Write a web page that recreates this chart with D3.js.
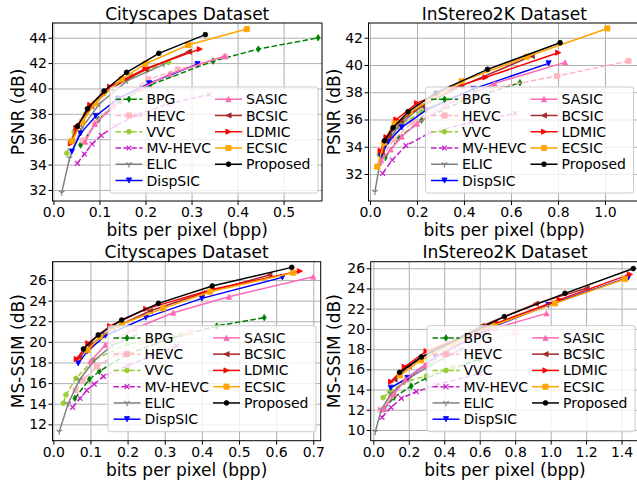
<!DOCTYPE html>
<html>
<head>
<meta charset="utf-8">
<script src="https://cdn.jsdelivr.net/npm/d3@7"></script>
<style>
  body { margin: 0; background: #fff; }
  svg { font-family: "DejaVu Sans", sans-serif; }
  .axis path, .axis line { stroke: #000; }
  .grid line { stroke: #b0b0b0; stroke-width: 1; }
  .grid path { display: none; }
</style>
</head>
<body>
<svg id="chart" width="637" height="483"></svg>
<script>
// Names, in legend order
var methods = ['BPG', 'HEVC', 'VVC', 'MV-HEVC', 'ELIC', 'DispSIC', 'SASIC', 'BCSIC', 'LDMIC', 'ECSIC', 'Proposed'];
var titles = ['Cityscapes Dataset', 'InStereo2K Dataset', 'Cityscapes Dataset', 'InStereo2K Dataset'];
var ylabels = ['PSNR (dB)', 'PSNR (dB)', 'MS-SSIM (dB)', 'MS-SSIM (dB)'];
var xlabel = 'bits per pixel (bpp)';

// Tick values
var cityPsnrXTicks = [0, 0.1, 0.2, 0.3, 0.4, 0.5];
var cityPsnrYTicks = [32, 34, 36, 38, 40, 42, 44];
var instPsnrXTicks = [0, 0.2, 0.4, 0.6, 0.8, 1.0];
var instPsnrYTicks = [32, 34, 36, 38, 40, 42];
var cityMsXTicks = [0, 0.1, 0.2, 0.3, 0.4, 0.5, 0.6, 0.7];
var cityMsYTicks = [12, 14, 16, 18, 20, 22, 24, 26];
var instMsXTicks = [0, 0.2, 0.4, 0.6, 0.8, 1.0, 1.2, 1.4];
var instMsYTicks = [10, 12, 14, 16, 18, 20, 22, 24, 26];

// [bpp, value] per method (same order as methods)
var cityPsnr = [
  [[0.059,35.54],[0.098,37.56],[0.145,39.0],[0.21,40.27],[0.347,42.16],[0.445,43.1],[0.575,44.0]],
  [[0.065,35.9],[0.09,37.3],[0.13,38.75],[0.206,40.72],[0.27,41.5],[0.373,42.5]],
  [[0.029,34.89],[0.045,36.6],[0.07,38.0],[0.11,39.6],[0.17,41.0],[0.25,42.06]],
  [[0.052,34.1],[0.067,34.83],[0.084,35.62],[0.104,36.3],[0.134,37.04],[0.18,37.9],[0.25,38.8],[0.339,39.53]],
  [[0.018,31.79],[0.035,34.5],[0.06,36.8],[0.1,38.8],[0.16,40.6],[0.24,41.9]],
  [[0.04,35.02],[0.059,36.46],[0.092,37.83],[0.14,39.2],[0.208,40.4],[0.313,41.92]],
  [[0.069,35.8],[0.09,37.2],[0.13,38.6],[0.19,40.0],[0.253,41.14],[0.373,42.56]],
  [[0.04,35.9],[0.055,37.2],[0.082,38.6],[0.125,40.0],[0.2,41.5],[0.294,42.9]],
  [[0.038,35.67],[0.05,36.9],[0.08,38.7],[0.123,40.14],[0.2,41.55],[0.318,43.1]],
  [[0.04,35.85],[0.063,37.38],[0.09,38.83],[0.148,40.72],[0.2,41.95],[0.293,43.42],[0.42,44.68]],
  [[0.052,37.0],[0.074,38.4],[0.11,39.8],[0.159,41.27],[0.229,42.77],[0.33,44.24]]
];
var instPsnr = [
  [[0.065,33.2],[0.123,34.67],[0.22,35.96],[0.4,37.4],[0.638,38.7]],
  [[0.05,33.2],[0.1,34.5],[0.18,35.8],[0.32,37.2],[0.52,38.3],[0.797,39.19],[1.1,40.29]],
  [[0.04,33.4],[0.075,34.5],[0.133,35.6],[0.22,36.6],[0.32,37.5],[0.45,38.2]],
  [[0.054,32.05],[0.095,33.03],[0.153,34.08],[0.255,35.03],[0.43,35.8],[0.617,36.45]],
  [[0.021,30.7],[0.04,32.6],[0.07,34.2],[0.12,35.5],[0.2,36.7],[0.284,37.6]],
  [[0.045,33.3],[0.078,34.37],[0.135,35.42],[0.24,36.7],[0.44,38.25],[0.76,40.12]],
  [[0.047,33.0],[0.088,33.8],[0.135,34.75],[0.2,35.7],[0.32,37.0],[0.53,38.65],[0.83,40.19]],
  [[0.05,33.6],[0.08,34.8],[0.13,35.9],[0.22,37.0],[0.386,38.45],[0.689,40.65]],
  [[0.045,33.7],[0.07,34.7],[0.112,36.0],[0.2,37.2],[0.35,38.3],[0.492,39.09],[0.801,40.9]],
  [[0.031,32.54],[0.06,34.3],[0.105,35.7],[0.17,36.55],[0.39,38.8],[0.667,40.6],[1.01,42.68]],
  [[0.062,34.44],[0.098,35.4],[0.162,36.57],[0.28,37.95],[0.5,39.68],[0.809,41.63]]
];
var cityMs = [
  [[0.058,14.52],[0.097,16.37],[0.124,17.15],[0.2,18.8],[0.32,20.4],[0.44,21.54],[0.568,22.35]],
  [[0.06,15.3],[0.08,16.3],[0.117,17.6],[0.17,18.8],[0.25,20.0],[0.37,20.9]],
  [[0.027,14.04],[0.034,14.85],[0.061,16.46],[0.108,18.24],[0.2,19.8],[0.344,20.67]],
  [[0.052,13.65],[0.072,14.52],[0.09,15.3],[0.11,15.9],[0.135,16.65],[0.2,17.7],[0.332,19.6]],
  [[0.016,11.29],[0.04,14.0],[0.07,16.3],[0.11,18.2],[0.16,19.7],[0.22,20.6]],
  [[0.067,17.92],[0.092,19.1],[0.14,20.6],[0.249,22.35],[0.4,24.22],[0.617,26.26]],
  [[0.1,18.1],[0.14,19.7],[0.22,21.3],[0.323,22.83],[0.473,24.38],[0.7,26.32]],
  [[0.07,18.5],[0.1,19.7],[0.16,21.3],[0.26,23.0],[0.4,24.7],[0.582,26.48]],
  [[0.063,18.34],[0.094,19.86],[0.153,21.54],[0.25,23.2],[0.43,25.1],[0.664,26.87]],
  [[0.092,19.2],[0.126,20.5],[0.184,21.73],[0.296,23.25],[0.422,24.87],[0.646,26.71]],
  [[0.081,19.31],[0.121,20.67],[0.184,22.12],[0.283,23.74],[0.428,25.42],[0.642,27.23]]
];
var instMs = [
  [[0.06,12.07],[0.117,13.23],[0.214,14.35],[0.3,15.15],[0.45,16.1],[0.6,17.0]],
  [[0.04,12.0],[0.1,13.4],[0.2,15.2],[0.403,17.52],[0.8,19.6]],
  [[0.055,13.2],[0.092,13.8],[0.17,14.7],[0.3,15.35],[0.45,16.2]],
  [[0.049,11.25],[0.1,12.24],[0.158,13.13],[0.242,13.8],[0.355,14.45],[0.6,15.6]],
  [[0.011,9.83],[0.045,12.0],[0.1,13.6],[0.2,15.1],[0.33,16.5],[0.5,18.0]],
  [[0.098,14.18],[0.192,15.14],[0.35,17.2],[0.66,20.1],[0.987,22.37],[1.438,25.08]],
  [[0.06,12.1],[0.12,13.6],[0.18,15.0],[0.29,16.4],[0.45,18.3],[0.686,20.06],[0.977,21.54]],
  [[0.12,15.0],[0.2,16.3],[0.33,17.8],[0.611,20.3],[0.917,22.5],[1.203,24.02]],
  [[0.1,14.78],[0.177,16.26],[0.3,17.8],[0.7,20.6],[1.05,22.9],[1.447,25.4]],
  [[0.15,15.4],[0.27,16.9],[0.45,18.6],[0.673,20.29],[1.024,22.53],[1.419,24.94]],
  [[0.148,15.7],[0.271,17.22],[0.739,21.21],[1.081,23.52],[1.466,25.97]]
];

// Styles per method
var styles = {
  'BPG':      {color: '#008000', dash: true,  marker: 'd'},
  'HEVC':     {color: '#ffb6c1', dash: true,  marker: 's'},
  'VVC':      {color: '#9acd32', dash: true,  marker: 'o'},
  'MV-HEVC':  {color: '#c71fc7', dash: true,  marker: 'x'},
  'ELIC':     {color: '#808080', dash: false, marker: '1'},
  'DispSIC':  {color: '#0000ff', dash: false, marker: 'v'},
  'SASIC':    {color: '#ff69b4', dash: false, marker: '^'},
  'BCSIC':    {color: '#a52a2a', dash: false, marker: '<'},
  'LDMIC':    {color: '#ff0000', dash: false, marker: '>'},
  'ECSIC':    {color: '#ffa500', dash: false, marker: 's'},
  'Proposed': {color: '#000000', dash: false, marker: 'o'}
};

// Panel layout (pixel boxes and axis limits)
var panels = [
  {data: cityPsnr, xt: cityPsnrXTicks, yt: cityPsnrYTicks, box: {l: 52.5, r: 322, t: 23, b: 201},
   xd: [-0.002, 0.5834], yd: [31.13, 45.16], legL: 110, ylabX: 24},
  {data: instPsnr, xt: instPsnrXTicks, yt: instPsnrYTicks, box: {l: 368.5, r: 640, t: 23, b: 201},
   xd: [-0.0064, 1.149], yd: [30.02, 43.08], legL: 425.5, ylabX: 340},
  {data: cityMs, xt: cityMsXTicks, yt: cityMsYTicks, box: {l: 52.5, r: 320.7, t: 261.7, b: 440.7},
   xd: [-0.0022, 0.72], yd: [10.41, 27.78], legL: 108, ylabX: 24},
  {data: instMs, xt: instMsXTicks, yt: instMsYTicks, box: {l: 370.7, r: 639.3, t: 261.7, b: 440.7},
   xd: [-0.0147, 1.5], yd: [8.94, 26.65], legL: 427, ylabX: 340}
];

var svg = d3.select('#chart');

// Marker shapes, roughly like matplotlib's
function markerPath(type) {
  var s = 2.6;
  switch (type) {
    case 'o': return d3.symbol(d3.symbolCircle, Math.PI * 2.4 * 2.4)();
    case 's': return 'M' + (-s) + ',' + (-s) + 'h' + (2 * s) + 'v' + (2 * s) + 'h' + (-2 * s) + 'Z';
    case 'd': return 'M0,' + (-3.2) + 'L2,0L0,3.2L-2,0Z';
    case 'x': return 'M-2.4,-2.4L2.4,2.4M-2.4,2.4L2.4,-2.4';
    case '1': return 'M0,0L0,3.2M0,0L-2.8,-1.6M0,0L2.8,-1.6';
    case 'v': return 'M0,' + s + 'L' + (-s) + ',' + (-s) + 'L' + s + ',' + (-s) + 'Z';
    case '^': return 'M0,' + (-s) + 'L' + (-s) + ',' + s + 'L' + s + ',' + s + 'Z';
    case '<': return 'M' + (-s) + ',0L' + s + ',' + (-s) + 'L' + s + ',' + s + 'Z';
    case '>': return 'M' + s + ',0L' + (-s) + ',' + (-s) + 'L' + (-s) + ',' + s + 'Z';
  }
}

function drawMarker(sel, st) {
  var open = st.marker === 'x' || st.marker === '1';
  sel.append('path')
    .attr('d', markerPath(st.marker))
    .attr('fill', open ? 'none' : st.color)
    .attr('stroke', st.color)
    .attr('stroke-width', open ? 1.2 : 0.8);
}

panels.forEach(function (p, pi) {
  var b = p.box;
  var x = d3.scaleLinear().domain(p.xd).range([b.l, b.r]);
  var y = d3.scaleLinear().domain(p.yd).range([b.b, b.t]);
  var g = svg.append('g');

  // Grid
  g.append('g').attr('class', 'grid')
    .attr('transform', 'translate(0,' + b.b + ')')
    .call(d3.axisBottom(x).tickValues(p.xt).tickSize(-(b.b - b.t)).tickFormat(''));
  g.append('g').attr('class', 'grid')
    .attr('transform', 'translate(' + b.l + ',0)')
    .call(d3.axisLeft(y).tickValues(p.yt).tickSize(-(b.r - b.l)).tickFormat(''));

  // Lines
  var clipId = 'clip' + pi;
  svg.append('clipPath').attr('id', clipId)
    .append('rect').attr('x', b.l).attr('y', b.t).attr('width', b.r - b.l).attr('height', b.b - b.t);
  var plot = g.append('g').attr('clip-path', 'url(#' + clipId + ')');

  var line = d3.line().x(function (d) { return x(d[0]); }).y(function (d) { return y(d[1]); });

  methods.forEach(function (m, mi) {
    var st = styles[m];
    var pts = p.data[mi];
    plot.append('path')
      .attr('d', line(pts))
      .attr('fill', 'none')
      .attr('stroke', st.color)
      .attr('stroke-width', 1.5)
      .attr('stroke-dasharray', st.dash ? '5.5,2.4' : null);
    pts.forEach(function (d) {
      drawMarker(plot.append('g').attr('transform', 'translate(' + x(d[0]) + ',' + y(d[1]) + ')'), st);
    });
  });

  // Frame
  g.append('rect')
    .attr('x', b.l).attr('y', b.t).attr('width', b.r - b.l).attr('height', b.b - b.t)
    .attr('fill', 'none').attr('stroke', '#000').attr('stroke-width', 1);

  // Axes
  var xAxis = g.append('g').attr('class', 'axis')
    .attr('transform', 'translate(0,' + b.b + ')')
    .call(d3.axisBottom(x).tickValues(p.xt).tickSize(4).tickPadding(2).tickFormat(d3.format('.1f')));
  var yAxis = g.append('g').attr('class', 'axis')
    .attr('transform', 'translate(' + b.l + ',0)')
    .call(d3.axisLeft(y).tickValues(p.yt).tickSize(4).tickPadding(1.5).tickFormat(d3.format('d')));
  [xAxis, yAxis].forEach(function (a) {
    a.select('.domain').remove();
    a.selectAll('text').attr('font-size', 14).attr('fill', '#000').attr('font-family', '"DejaVu Sans", sans-serif');
  });

  // Title and labels
  var cx = (b.l + b.r) / 2;
  g.append('text').attr('x', cx).attr('y', b.t - 3.5)
    .attr('text-anchor', 'middle').attr('font-size', 17).text(titles[pi]);
  g.append('text').attr('x', cx).attr('y', b.b + 35)
    .attr('text-anchor', 'middle').attr('font-size', 17).text(xlabel);
  g.append('text')
    .attr('transform', 'translate(' + p.ylabX + ',' + ((b.t + b.b) / 2) + ') rotate(-90)')
    .attr('text-anchor', 'middle').attr('font-size', 17).text(ylabels[pi]);

  // Legend, two columns
  var legW = 208, legH = 106;
  var lx = p.legL, ly = b.t + 64;
  var leg = g.append('g');
  leg.append('rect')
    .attr('x', lx).attr('y', ly).attr('width', legW).attr('height', legH)
    .attr('rx', 2.5)
    .attr('fill', '#fff').attr('fill-opacity', 0.8)
    .attr('stroke', '#cccccc').attr('stroke-width', 1);
  methods.forEach(function (m, mi) {
    var st = styles[m];
    var col = mi < 6 ? 0 : 1;
    var row = mi < 6 ? mi : mi - 6;
    var hx = lx + 5.5 + col * 99.5;
    var ry = ly + 12.2 + row * 16.26;
    leg.append('line')
      .attr('x1', hx).attr('x2', hx + 27).attr('y1', ry).attr('y2', ry)
      .attr('stroke', st.color).attr('stroke-width', 1.5)
      .attr('stroke-dasharray', st.dash ? '5.5,2.4' : null);
    drawMarker(leg.append('g').attr('transform', 'translate(' + (hx + 13.5) + ',' + ry + ')'), st);
    leg.append('text')
      .attr('x', hx + 31).attr('y', ry).attr('dy', '0.36em')
      .attr('font-size', 14).text(m);
  });
});
</script>
</body>
</html>
